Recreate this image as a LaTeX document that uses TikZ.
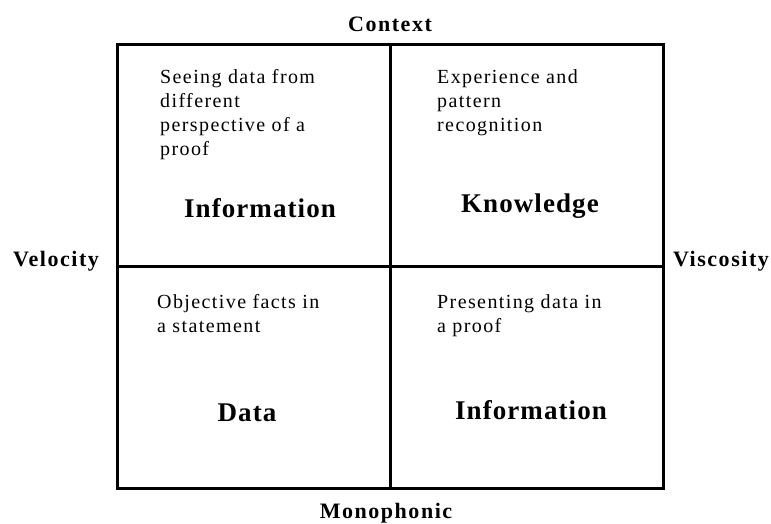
\documentclass[tikz,border=0pt]{standalone}
\usepackage{fontspec}
\setmainfont{Liberation Serif}
\usetikzlibrary{positioning}

\tikzset{
  gridline/.style={line width=3pt, line cap=rect},
  note/.style={font=\fontsize{20}{24}\selectfont\addfontfeatures{LetterSpace=7},
    align=left, anchor=north west, inner sep=0pt},
  bigword/.style={font=\fontsize{27}{32}\selectfont\bfseries\addfontfeatures{LetterSpace=4},
    anchor=base, inner sep=0pt},
  axislabel/.style={font=\fontsize{22}{26}\selectfont\bfseries\addfontfeatures{LetterSpace=7},
    anchor=base, inner sep=0pt}
}

\begin{document}
\begin{tikzpicture}[x=1pt, y=1pt]
  \useasboundingbox (0,0) rectangle (771,524);

  % corners and mid points of the grid
  \coordinate (NW) at (117,479);
  \coordinate (SE) at (663,35);
  \coordinate (N) at (390,479);
  \coordinate (S) at (390,35);
  \coordinate (W) at (117,257);
  \coordinate (E) at (663,257);

  % outer frame and the cross
  \draw[gridline] (NW) rectangle (SE);
  \draw[gridline] (N) -- (S);
  \draw[gridline] (W) -- (E);

  % labels round the frame
  \node[axislabel] (context) at (390,492) {Context};
  \node[axislabel] (velocity) at (56,257) {Velocity};
  \node[axislabel] (viscosity) at (721,257) {Viscosity};
  \node[axislabel] (monophonic) at (386,5) {Monophonic};

  % top left quadrant
  \node[note] (seeing) at (160,455) {Seeing data from\\different\\perspective of a\\proof};
  \node[bigword] (infoA) at (260,306) {Information};

  % top right quadrant
  \node[note] (experience) at (437,455) {Experience and\\pattern\\recognition};
  \node[bigword] (knowledge) at (530,311) {Knowledge};

  % bottom left quadrant
  \node[note] (objective) at (157,230) {Objective facts in\\a statement};
  \node[bigword] (data) at (247,102) {Data};

  % bottom right quadrant
  \node[note] (presenting) at (437,230) {Presenting data in\\a proof};
  \node[bigword] (infoB) at (531,104) {Information};
\end{tikzpicture}
\end{document}
